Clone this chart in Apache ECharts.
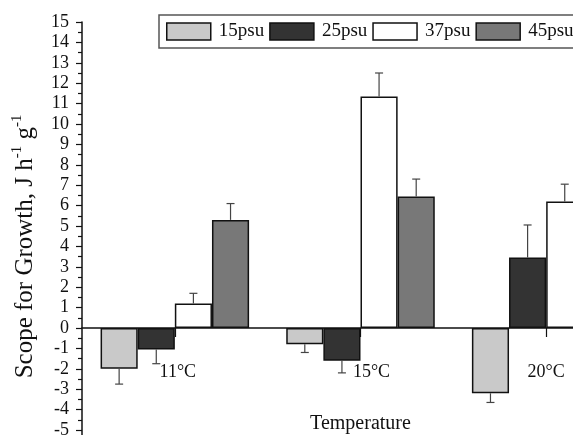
<!DOCTYPE html>
<html>
<head>
<meta charset="utf-8">
<script src="https://cdn.jsdelivr.net/npm/echarts@6/dist/echarts.min.js"></script>
<style>html,body{margin:0;padding:0;background:#fff}#c{width:573px;height:435px}</style>
</head>
<body>
<div id="c"></div>
<script>
const categories = ['11°C', '15°C', '20°C'];
const seriesNames = ['15psu', '25psu', '37psu', '45psu'];
const values15 = [-2.0, -0.8, -3.2];
const values25 = [-1.05, -1.6, 3.45];
const values37 = [1.2, 11.35, 6.2];
const values45 = [5.3, 6.45, 5.0];
const err15 = [0.75, 0.4, 0.45];
const err25 = [0.7, 0.6, 1.6];
const err37 = [0.5, 1.15, 0.85];
const err45 = [0.8, 0.85, 0.8];
const yTicks = { min: -7, max: 15, interval: 1 };

const allValues = [values15, values25, values37, values45];
const allErr = [err15, err25, err37, err45];
const colors = ['#c9c9c9', '#333333', '#ffffff', '#787878'];
const FONT = 'Liberation Serif';
const GRID = { left: 82, top: 22, right: -66, bottom: -35.8 };
const labelShift = [6, 22, 0];

const chart = echarts.init(document.getElementById('c'));
const series = [];
seriesNames.forEach((name, i) => {
  series.push({
    name: name,
    type: 'bar',
    data: allValues[i],
    barGap: '0%',
    barCategoryGap: '20%',
    itemStyle: { color: colors[i], borderColor: '#111', borderWidth: 1.5 },
    z: 2
  });
});
seriesNames.forEach((name, i) => {
  series.push({
    name: name + ' err',
    type: 'custom',
    z: 3,
    data: allValues[i].map((v, k) => [k, v, allErr[i][k]]),
    encode: { x: 0, y: 1 },
    renderItem: function (params, api) {
      const k = api.value(0), v = api.value(1), e = api.value(2);
      const band = api.size([1, 0])[0];
      const bw = band * 0.8 / 4;
      const base = api.coord([k, v]);
      const x = base[0] + (i - 1.5) * bw;
      const end = api.coord([k, v >= 0 ? v + e : v - e]);
      const cap = 4;
      return {
        type: 'group',
        children: [
          { type: 'line', shape: { x1: x, y1: base[1], x2: x, y2: end[1] }, style: { stroke: '#444', lineWidth: 1.2 } },
          { type: 'line', shape: { x1: x - cap, y1: end[1], x2: x + cap, y2: end[1] }, style: { stroke: '#444', lineWidth: 1.2 } }
        ]
      };
    }
  });
});

const labelRich = {};
labelShift.forEach((s, k) => {
  labelRich['c' + k] = { fontFamily: FONT, fontSize: 18, color: '#111', padding: [0, 0, 0, s] };
});

const option = {
  animation: false,
  backgroundColor: '#fff',
  textStyle: { fontFamily: FONT },
  grid: { left: GRID.left, top: GRID.top, right: GRID.right, bottom: GRID.bottom, containLabel: false, outerBoundsMode: 'none' },
  legend: {
    data: seriesNames,
    left: 159,
    top: 15,
    width: 540,
    orient: 'horizontal',
    padding: [7, 7, 7, 7],
    itemGap: 5,
    itemWidth: 44,
    itemHeight: 17,
    icon: 'rect',
    borderColor: '#555',
    borderWidth: 1.5,
    borderRadius: 0,
    itemStyle: { borderColor: '#111', borderWidth: 1.5 },
    textStyle: { fontFamily: FONT, fontSize: 19, color: '#111', padding: [0, 0, 0, 3] }
  },
  xAxis: {
    type: 'category',
    data: categories,
    position: 'bottom',
    offset: 0,
    name: 'Temperature',
    nameLocation: 'middle',
    nameGap: 86,
    nameTextStyle: { fontFamily: FONT, fontSize: 20, color: '#111' },
    axisLine: { onZero: false, lineStyle: { color: '#111', width: 1.5 } },
    axisTick: { show: true, alignWithLabel: true, length: 9, lineStyle: { color: '#111', width: 1.2 } },
    axisLabel: {
      fontFamily: FONT, fontSize: 18, color: '#111', margin: 35,
      formatter: function (value, index) { return '{c' + index + '|' + value + '}'; },
      rich: labelRich
    },
    splitLine: { show: false }
  },
  yAxis: {
    type: 'value',
    min: yTicks.min,
    max: yTicks.max,
    interval: yTicks.interval,
    name: '{t|Scope for Growth, J h}{s|-1}{t| g}{s|-1}',
    nameLocation: 'middle',
    nameGap: 44,
    nameRotate: 90,
    nameTextStyle: {
      fontFamily: FONT, color: '#111',
      rich: {
        t: { fontFamily: FONT, fontSize: 25, color: '#111', verticalAlign: 'bottom', lineHeight: 28 },
        s: { fontFamily: FONT, fontSize: 15, color: '#111', verticalAlign: 'top', lineHeight: 28, padding: [0, 0, 12, 0] }
      }
    },
    axisLine: { show: true, lineStyle: { color: '#111', width: 1.5 } },
    axisTick: { show: true, length: 6, lineStyle: { color: '#111', width: 1.2 } },
    minorTick: { show: true, splitNumber: 2, length: 4, lineStyle: { color: '#111', width: 1.2 } },
    axisLabel: { fontFamily: FONT, fontSize: 18, color: '#111', margin: 13 },
    splitLine: { show: false }
  },
  series: series
};
chart.setOption(option);
// place the x axis on the zero line of the value axis
const zeroY = chart.convertToPixel({ yAxisIndex: 0 }, 0);
const gridBottomY = chart.getHeight() - GRID.bottom;
chart.setOption({ xAxis: { offset: -(gridBottomY - zeroY) } });
</script>
</body>
</html>
